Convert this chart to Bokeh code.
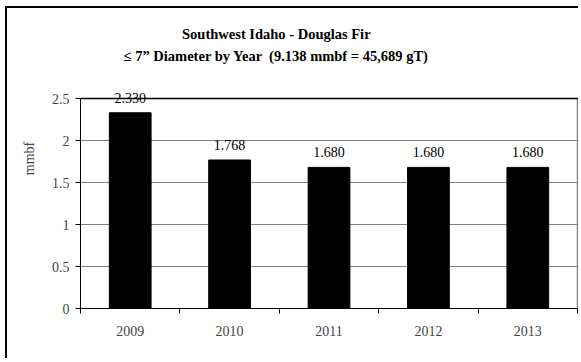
from bokeh.plotting import figure
from bokeh.models import (ColumnDataSource, FixedTicker, LinearAxis, Range1d,
                          LabelSet, Label, Grid, Span)
from bokeh.embed import file_html
from bokeh.resources import INLINE

years = ["2009", "2010", "2011", "2012", "2013"]
mmbf = [2.330, 1.768, 1.680, 1.680, 1.680]
value_labels = ["2.330", "1.768", "1.680", "1.680", "1.680"]
y_ticks = [0, 0.5, 1, 1.5, 2, 2.5]
y_tick_labels = ["0", "0.5", "1", "1.5", "2", "2.5"]
title_lines = ["Southwest Idaho - Douglas Fir",
               "\u2264 7\u201d Diameter by Year \u00a0(9.138 mmbf = 45,689 gT)"]
y_label = "mmbf"

FONT = "Liberation Serif"
Y_MAX = y_ticks[-1]
N = len(years)

xs = [i + 0.5 for i in range(N)]
src = ColumnDataSource(dict(x=xs, top=mmbf, lab=value_labels))

# frame extends above the plot area so that the title and value labels are not clipped
p = figure(width=573, height=352, output_backend="svg", toolbar_location=None,
           x_range=Range1d(0, N + 0.01), y_range=Range1d(0, Y_MAX * 300 / 210),
           x_axis_type=None, y_axis_type=None,
           min_border_left=73, min_border_right=2, min_border_top=0,
           min_border_bottom=52)
p.styles = {"border-left": "2px solid black", "border-top": "2px solid black",
            "margin-left": "5px", "margin-top": "6px"}
p.background_fill_color = "white"
p.border_fill_color = "white"
p.outline_line_color = None

# grid lines
p.add_layout(Grid(dimension=1, ticker=FixedTicker(ticks=y_ticks[1:-1]),
                  grid_line_color="#808080", grid_line_width=1))
p.add_layout(Span(location=Y_MAX, dimension="width", line_color="black",
                  line_width=1.3))

p.vbar(x="x", top="top", width=0.42, bottom=0, source=src,
       fill_color="black", line_color="black")

# right edge of the plot area
p.segment(x0=[N], y0=[0], x1=[N], y1=[Y_MAX], line_color="#808080", line_width=1.5)

# y axis
yaxis = LinearAxis(ticker=FixedTicker(ticks=y_ticks, minor_ticks=[]),
                   bounds=(0, Y_MAX))
yaxis.major_label_overrides = {t: l for t, l in zip(y_ticks, y_tick_labels)}
yaxis.major_tick_out = 5
yaxis.major_tick_in = 0
yaxis.axis_line_color = "black"
yaxis.major_label_text_font = FONT
yaxis.major_label_text_font_size = "14px"
yaxis.major_label_standoff = 6
yaxis.axis_label = y_label
yaxis.axis_label_text_font = FONT
yaxis.axis_label_text_font_size = "14px"
yaxis.axis_label_text_font_style = "normal"
yaxis.axis_label_standoff = 12
p.add_layout(yaxis, "left")

# x axis: labels at centers, ticks at boundaries (minor)
xaxis = LinearAxis(ticker=FixedTicker(ticks=xs, minor_ticks=list(range(N + 1))),
                   bounds=(0, N))
xaxis.major_label_overrides = {x: y for x, y in zip(xs, years)}
xaxis.major_tick_out = 0
xaxis.major_tick_in = 0
xaxis.minor_tick_out = 5
xaxis.minor_tick_in = 0
xaxis.axis_line_color = "black"
xaxis.major_label_text_font = FONT
xaxis.major_label_text_font_size = "14px"
xaxis.major_label_standoff = 12
p.add_layout(xaxis, "below")

labels = LabelSet(x="x", y="top", text="lab", source=src, y_offset=15,
                  text_align="center", text_baseline="middle",
                  text_font=FONT, text_font_size="14px", text_color="black")
p.add_layout(labels)

# title lines
for i, line in enumerate(title_lines):
    p.add_layout(Label(x=1.97, y=Y_MAX, y_offset=65 - 22 * i, text=line,
                       text_align="center", text_baseline="middle",
                       text_font=FONT, text_font_size="14.5px",
                       text_font_style="bold", text_color="black"))

open("out.html", "w").write(file_html(p, INLINE))
